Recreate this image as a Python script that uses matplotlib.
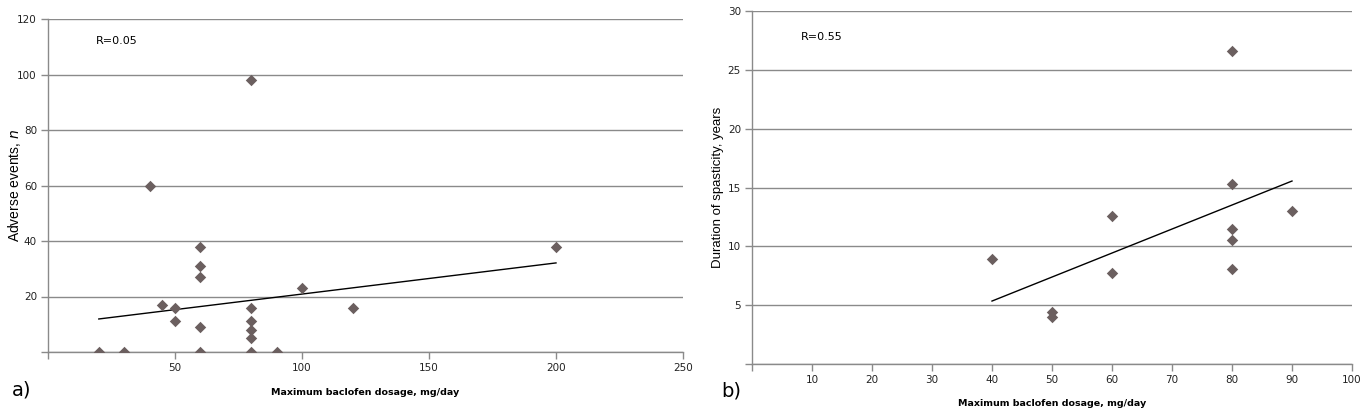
import matplotlib
matplotlib.use("Agg")
import matplotlib.pyplot as plt

# Panel a data
a_dose = [20, 30, 40, 45, 50, 50, 60, 60, 60, 60, 60, 80, 80, 80, 80, 80, 80, 90, 100, 120, 200]
a_events = [0, 0, 60, 17, 16, 11, 38, 31, 27, 9, 0, 98, 16, 11, 8, 5, 0, 0, 23, 16, 38]
a_trend_x = [20, 200]
a_trend_y = [11.9, 32.1]
a_xticks = [0, 50, 100, 150, 200, 250]
a_xticklabels = ["", "50", "100", "150", "200", "250"]
a_yticks = [0, 20, 40, 60, 80, 100, 120]
a_yticklabels = ["", "20", "40", "60", "80", "100", "120"]

# Panel b data
b_dose = [40, 50, 50, 60, 60, 80, 80, 80, 80, 80, 90]
b_duration = [8.9, 4.4, 4.0, 12.6, 7.7, 26.6, 15.3, 11.5, 10.5, 8.1, 13.0]
b_trend_x = [40, 90]
b_trend_y = [5.35, 15.55]
b_xticks = [0, 10, 20, 30, 40, 50, 60, 70, 80, 90, 100]
b_xticklabels = ["", "10", "20", "30", "40", "50", "60", "70", "80", "90", "100"]
b_yticks = [0, 5, 10, 15, 20, 25, 30]
b_yticklabels = ["", "5", "10", "15", "20", "25", "30"]

W, H = 1371, 412
fig = plt.figure(figsize=(W / 100, H / 100), dpi=100)

marker_color = "#6b5f5f"
grid_color = "#8a8a8a"
spine_color = "#8a8a8a"


def make_ax(l, r, t, b):
    return fig.add_axes([l / W, (H - b) / H, (r - l) / W, (b - t) / H])


def style(ax):
    for s in ["top", "right"]:
        ax.spines[s].set_visible(False)
    for s in ["left", "bottom"]:
        ax.spines[s].set_color(spine_color)
        ax.spines[s].set_linewidth(1.0)
    ax.yaxis.grid(True, color=grid_color, linewidth=1.0)
    ax.set_axisbelow(True)
    ax.tick_params(axis="both", direction="out", length=5, width=1.0, pad=3,
                   color=spine_color, labelsize=7.5, labelcolor="#222222")


axa = make_ax(48, 683, 19, 352)
style(axa)
axa.scatter(a_dose, a_events, marker="D", s=34, color=marker_color, zorder=3, linewidths=0)
axa.plot(a_trend_x, a_trend_y, color="black", linewidth=1.0, zorder=2)
axa.set_xlim(0, 250)
axa.set_ylim(0, 120)
axa.set_xticks(a_xticks)
axa.set_xticklabels(a_xticklabels)
axa.set_yticks(a_yticks)
axa.set_yticklabels(a_yticklabels)
axa.set_xlabel("Maximum baclofen dosage, mg/day", fontsize=6.8, fontweight="bold",
               family="DejaVu Sans")
axa.xaxis.set_label_coords(0.5, -(388 - 352) / 333, transform=axa.transAxes)
axa.set_ylabel("Adverse events, $\\it{n}$", fontsize=10, family="Liberation Sans", va="center")
axa.yaxis.set_label_coords(-(48 - 14) / 635, 0.5)
fig.text(96 / W, 1 - 41 / H, "R=0.05", fontsize=8, family="DejaVu Sans", va="center", ha="left")
fig.text(22 / W, 1 - 390 / H, "a)", fontsize=14, family="DejaVu Sans", va="center", ha="center")

axb = make_ax(752, 1352, 11, 364)
style(axb)
axb.scatter(b_dose, b_duration, marker="D", s=34, color=marker_color, zorder=3, linewidths=0)
axb.plot(b_trend_x, b_trend_y, color="black", linewidth=1.0, zorder=2)
axb.set_xlim(0, 100)
axb.set_ylim(0, 30)
axb.set_xticks(b_xticks)
axb.set_xticklabels(b_xticklabels)
axb.set_yticks(b_yticks)
axb.set_yticklabels(b_yticklabels)
axb.set_xlabel("Maximum baclofen dosage, mg/day", fontsize=6.8, fontweight="bold",
               family="DejaVu Sans")
axb.xaxis.set_label_coords(0.5, -(399 - 364) / 353)
axb.set_ylabel("Duration of spasticity, years", fontsize=9.5, family="Liberation Sans", va="center")
axb.yaxis.set_label_coords(-(752 - 718) / 600, 0.5)
fig.text(801 / W, 1 - 37 / H, "R=0.55", fontsize=8, family="DejaVu Sans", va="center", ha="left")
fig.text(731 / W, 1 - 391 / H, "b)", fontsize=14, family="DejaVu Sans", va="center", ha="center")

fig.savefig("out.png", dpi=100)
